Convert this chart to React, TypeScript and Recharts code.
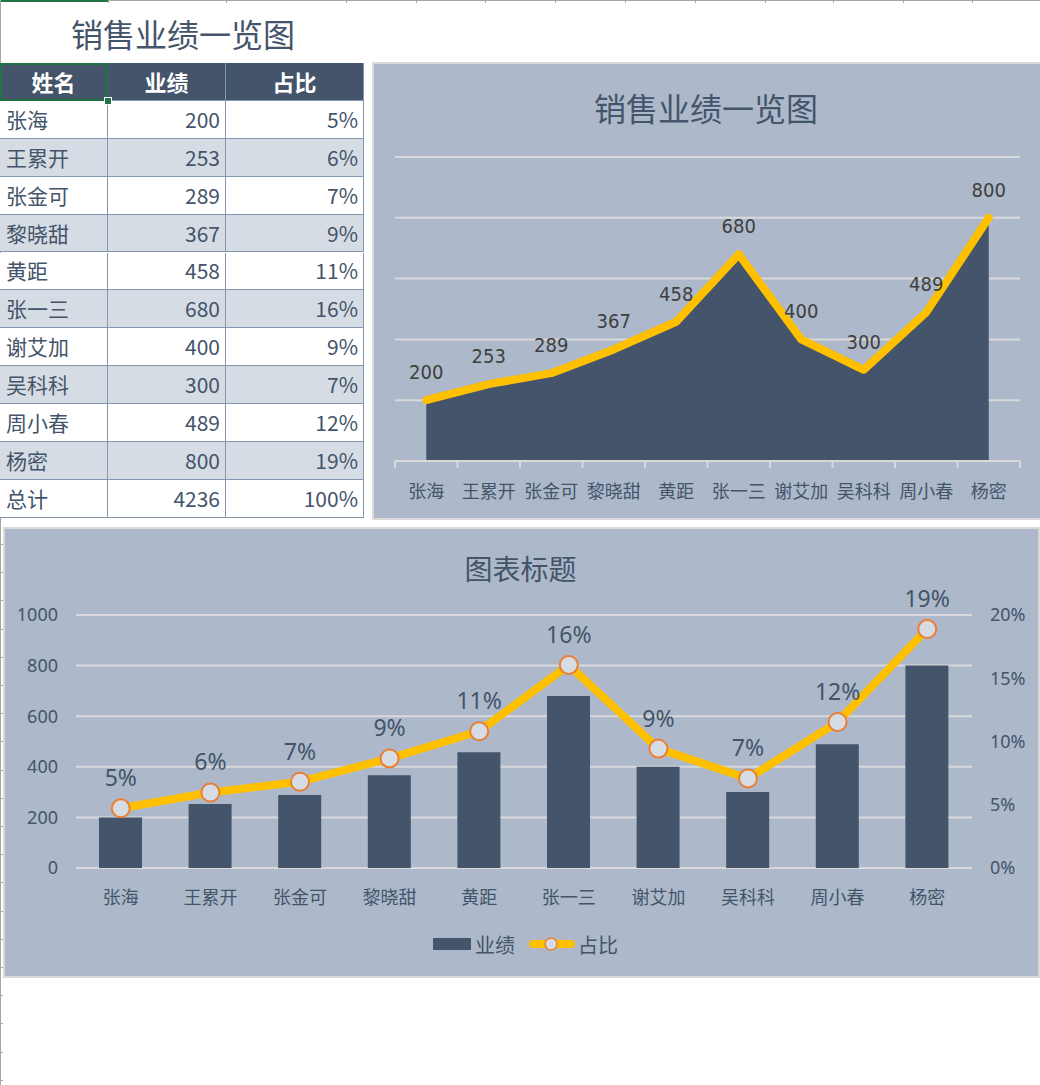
import React from 'react';
import {
  AreaChart,
  Area,
  XAxis,
  YAxis,
  CartesianGrid,
  LabelList,
  ComposedChart,
  Bar,
  Line,
  Legend,
} from 'recharts';

const names = ['张海', '王累开', '张金可', '黎晓甜', '黄距', '张一三', '谢艾加', '吴科科', '周小春', '杨密'];
const sales = [200, 253, 289, 367, 458, 680, 400, 300, 489, 800];
const shares = [0.0472, 0.0597, 0.0682, 0.0866, 0.1081, 0.1605, 0.0944, 0.0708, 0.1154, 0.1889];
const shareText = ['5%', '6%', '7%', '9%', '11%', '16%', '9%', '7%', '12%', '19%'];
const totalLabel = '总计';
const totalSales = 4236;
const totalShareText = '100%';
const headers = ['姓名', '业绩', '占比'];
const areaTicks = [0, 200, 400, 600, 800, 1000];
const barTicks = [0, 200, 400, 600, 800, 1000];
const shareTicks = [0, 0.05, 0.1, 0.15, 0.2];

const data = names.map((name, i) => ({ name, sales: sales[i], share: shares[i] }));

const CJK = '"Noto Sans CJK SC", "Noto Sans", sans-serif';
const NARROW = '"Liberation Sans Narrow", "DejaVu Sans Condensed", "Noto Sans", sans-serif';
const DARK = '#44546A';
const PANEL = '#ADB9CA';
const GRID = '#D9D9D9';
const ALT = '#D6DCE4';
const BORDER = '#8497B0';
const YELLOW = '#FFC000';
const ORANGE = '#ED7D31';

const colW = [108, 118, 138];
const rowH = 37.9;

const AreaTick = (props: any) => {
  const { x, y, payload, width, visibleTicksCount, index } = props;
  const count = visibleTicksCount || names.length;
  const half = (width || 625) / count / 2;
  return (
    <g>
      <line x1={x - half} x2={x - half} y1={y} y2={y + 7} stroke={GRID} strokeWidth={2} />
      {index === count - 1 && (
        <line x1={x + half} x2={x + half} y1={y} y2={y + 7} stroke={GRID} strokeWidth={2} />
      )}
      <text x={x} y={y + 37} textAnchor="middle" fill={DARK} fontSize={18} fontFamily={CJK}>
        {payload.value}
      </text>
    </g>
  );
};

const ComboLegend = () => (
  <div
    style={{
      display: 'flex',
      justifyContent: 'center',
      alignItems: 'center',
      height: 36,
      paddingLeft: 10,
      fontFamily: CJK,
      fontSize: 20,
      color: DARK,
    }}
  >
    <span style={{ display: 'inline-block', width: 38, height: 12, background: DARK, marginRight: 4 }} />
    <span style={{ marginRight: 14 }}>业绩</span>
    <svg width={46} height={18} style={{ marginRight: 3 }}>
      <line x1={4} x2={42} y1={9} y2={9} stroke={YELLOW} strokeWidth={8} strokeLinecap="round" />
      <circle cx={22} cy={9} r={6} fill={ALT} stroke={ORANGE} strokeWidth={1.5} />
    </svg>
    <span>占比</span>
  </div>
);

function TableRow({ cells, top, bg, header }: { cells: string[]; top: number; bg: string; header?: boolean }) {
  return (
    <div style={{ position: 'absolute', left: 0, top, height: rowH, display: 'flex', background: bg }}>
      {cells.map((c, i) => (
        <div
          key={i}
          style={{
            width: colW[i],
            height: rowH,
            boxSizing: 'border-box',
            borderRight: `1px solid ${BORDER}`,
            borderBottom: `1px solid ${BORDER}`,
            display: 'flex',
            alignItems: 'center',
            justifyContent: header ? 'center' : i === 0 ? 'flex-start' : 'flex-end',
            padding: header ? 0 : i === 0 ? '0 0 0 6px' : '0 5px 0 0',
            fontFamily: CJK,
            fontSize: header ? 22 : 21,
            fontWeight: header ? 700 : 400,
            color: header ? '#FFFFFF' : DARK,
            lineHeight: 1,
          }}
        >
          {c}
        </div>
      ))}
    </div>
  );
}

export default function App() {
  const leftTickMarks = [] as number[];
  for (let y = 544; y < 1085; y += 28.2) leftTickMarks.push(y);
  const topTicks = [108, 226, 346, 416, 485, 555, 625, 695, 765, 833, 903, 972];
  return (
    <div
      style={{
        position: 'absolute',
        left: 0,
        top: 0,
        width: 1040,
        height: 1085,
        background: '#FFFFFF',
        overflow: 'hidden',
        fontFamily: CJK,
      }}
    >
      {/* spreadsheet frame lines */}
      <div style={{ position: 'absolute', left: 0, top: 0, width: 1040, height: 1, background: '#A6A6A6' }} />
      <div style={{ position: 'absolute', left: 0, top: 0, width: 108, height: 2, background: '#217346' }} />
      {topTicks.map((x, i) => (
        <div key={i} style={{ position: 'absolute', left: x, top: 0, width: 1, height: 3, background: '#A6A6A6' }} />
      ))}
      <div style={{ position: 'absolute', left: 0, top: 0, width: 1, height: 1085, background: '#A6A6A6' }} />
      {leftTickMarks.map((y, i) => (
        <div key={i} style={{ position: 'absolute', left: 0, top: y, width: 3, height: 1, background: '#A6A6A6' }} />
      ))}

      {/* sheet title */}
      <div
        style={{
          position: 'absolute',
          left: 71,
          top: 12,
          fontSize: 32,
          color: DARK,
          lineHeight: '42px',
          whiteSpace: 'nowrap',
        }}
      >
        销售业绩一览图
      </div>

      {/* table */}
      <div style={{ position: 'absolute', left: 0, top: 63, width: 364, height: rowH * 12 }}>
        <TableRow cells={headers} top={0} bg={DARK} header />
        {names.map((n, i) => (
          <TableRow
            key={n}
            cells={[n, String(sales[i]), shareText[i]]}
            top={rowH * (i + 1)}
            bg={i % 2 === 1 ? ALT : '#FFFFFF'}
          />
        ))}
        <TableRow cells={[totalLabel, String(totalSales), totalShareText]} top={rowH * 11} bg="#FFFFFF" />
        <div
          style={{
            position: 'absolute',
            left: 0,
            top: 0,
            width: 108,
            height: rowH,
            boxSizing: 'border-box',
            border: '2px solid #217346',
          }}
        />
        <div
          style={{
            position: 'absolute',
            left: 104,
            top: rowH - 4,
            width: 6,
            height: 6,
            background: '#217346',
            border: '1px solid #FFFFFF',
          }}
        />
      </div>

      {/* area chart panel */}
      <div
        style={{
          position: 'absolute',
          left: 372,
          top: 62,
          width: 670,
          height: 458,
          background: PANEL,
          boxSizing: 'border-box',
          border: `2px solid ${GRID}`,
        }}
      />
      <div
        style={{
          position: 'absolute',
          left: 372,
          top: 86,
          width: 668,
          textAlign: 'center',
          fontSize: 32,
          color: DARK,
          lineHeight: '42px',
        }}
      >
        销售业绩一览图
      </div>
      <div style={{ position: 'absolute', left: 372, top: 62 }}>
        <AreaChart width={668} height={457} data={data} margin={{ top: 95, right: 20, left: 23, bottom: 18 }}>
          <CartesianGrid vertical={false} stroke={GRID} strokeWidth={2} />
          <YAxis hide domain={[0, 1000]} ticks={areaTicks} />
          <XAxis
            dataKey="name"
            scale="band"
            height={40}
            interval={0}
            axisLine={{ stroke: GRID, strokeWidth: 2 }}
            tickLine={false}
            tickSize={0}
            tickMargin={0}
            tick={<AreaTick />}
          />
          <Area
            type="linear"
            dataKey="sales"
            fill={DARK}
            fillOpacity={1}
            stroke={YELLOW}
            strokeWidth={8}
            strokeLinecap="round"
            strokeLinejoin="round"
            dot={false}
            activeDot={false}
            isAnimationActive={false}
          >
            <LabelList dataKey="sales" position="top" offset={21} fill="#404040" fontSize={20} fontFamily={NARROW} />
          </Area>
        </AreaChart>
      </div>

      {/* combo chart panel */}
      <div
        style={{
          position: 'absolute',
          left: 3,
          top: 527,
          width: 1037,
          height: 451,
          background: PANEL,
          boxSizing: 'border-box',
          border: `2px solid ${GRID}`,
        }}
      />
      <div
        style={{
          position: 'absolute',
          left: 3,
          top: 549,
          width: 1035,
          textAlign: 'center',
          fontSize: 28,
          color: DARK,
          lineHeight: '38px',
        }}
      >
        图表标题
      </div>
      <div style={{ position: 'absolute', left: 3, top: 527 }}>
        <ComposedChart width={1035} height={449} data={data} margin={{ top: 88, right: 0, left: 0, bottom: 14 }}>
          <CartesianGrid yAxisId="left" vertical={false} stroke={GRID} strokeWidth={2} />
          <XAxis
            dataKey="name"
            height={58}
            interval={0}
            axisLine={false}
            tickLine={false}
            tickSize={0}
            tickMargin={23}
            tick={{ fill: DARK, fontSize: 18, fontFamily: CJK }}
          />
          <YAxis
            yAxisId="left"
            orientation="left"
            width={73}
            domain={[0, 1000]}
            ticks={barTicks}
            axisLine={false}
            tickLine={false}
            tickSize={0}
            tickMargin={18}
            tick={{ fill: DARK, fontSize: 18, fontFamily: '"Noto Sans", sans-serif' }}
          />
          <YAxis
            yAxisId="right"
            orientation="right"
            width={66}
            domain={[0, 0.2]}
            ticks={shareTicks}
            axisLine={false}
            tickLine={false}
            tickSize={0}
            tickMargin={18}
            tickFormatter={(v: number) => `${Math.round(v * 100)}%`}
            tick={{ fill: DARK, fontSize: 18, fontFamily: '"Noto Sans", sans-serif', textAnchor: 'start' }}
          />
          <Legend verticalAlign="bottom" height={36} content={<ComboLegend />} />
          <Bar yAxisId="left" dataKey="sales" name="业绩" fill={DARK} barSize={43} isAnimationActive={false} />
          <Line
            yAxisId="right"
            type="linear"
            dataKey="share"
            name="占比"
            stroke={YELLOW}
            strokeWidth={8}
            strokeLinecap="round"
            strokeLinejoin="round"
            dot={{ r: 9, fill: ALT, stroke: ORANGE, strokeWidth: 2 }}
            activeDot={false}
            isAnimationActive={false}
          >
            <LabelList
              dataKey="share"
              position="top"
              offset={22}
              fill={DARK}
              fontSize={23}
              fontFamily='"Noto Sans", sans-serif'
              formatter={(v: number) => `${Math.round(v * 100)}%`}
            />
          </Line>
        </ComposedChart>
      </div>
    </div>
  );
}
